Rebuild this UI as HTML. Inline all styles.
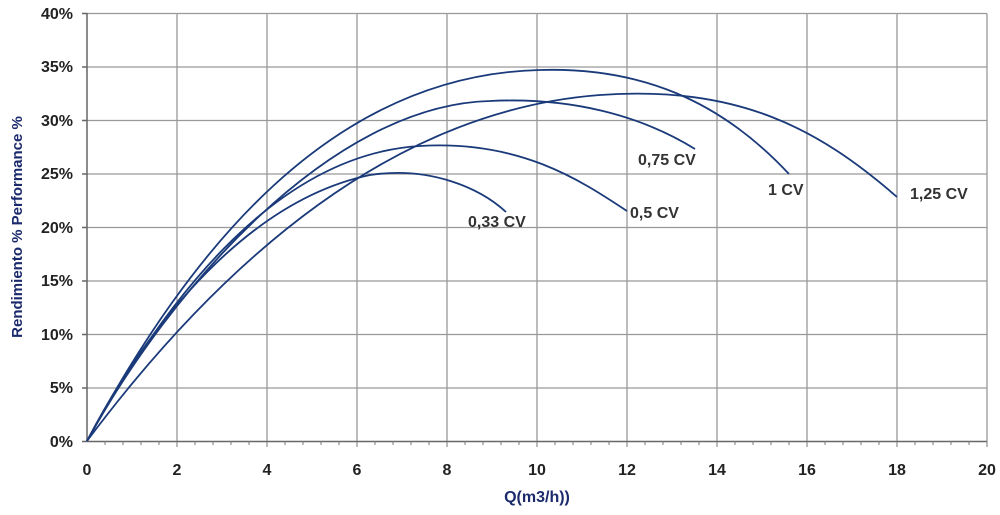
<!DOCTYPE html><html><head><style>body{margin:0;background:#fff}svg{display:block;font-family:"Liberation Sans",sans-serif}</style></head><body>
<svg width="1000" height="515" viewBox="0 0 1000 515">
<g stroke="#999" stroke-width="1.3">
<line x1="87" y1="13.5" x2="987" y2="13.5"/><line x1="87" y1="67" x2="987" y2="67"/><line x1="87" y1="120.5" x2="987" y2="120.5"/><line x1="87" y1="174" x2="987" y2="174"/><line x1="87" y1="227.5" x2="987" y2="227.5"/><line x1="87" y1="281" x2="987" y2="281"/><line x1="87" y1="334.5" x2="987" y2="334.5"/><line x1="87" y1="388" x2="987" y2="388"/>
<line x1="177" y1="13.5" x2="177" y2="441"/><line x1="267" y1="13.5" x2="267" y2="441"/><line x1="357" y1="13.5" x2="357" y2="441"/><line x1="447" y1="13.5" x2="447" y2="441"/><line x1="537" y1="13.5" x2="537" y2="441"/><line x1="627" y1="13.5" x2="627" y2="441"/><line x1="717" y1="13.5" x2="717" y2="441"/><line x1="807" y1="13.5" x2="807" y2="441"/><line x1="897" y1="13.5" x2="897" y2="441"/><line x1="987" y1="13.5" x2="987" y2="441"/>
</g>
<g stroke="#666" stroke-width="1.5"><line x1="87" y1="13" x2="87" y2="442"/><line x1="82" y1="441.5" x2="987" y2="441.5"/>
<path d="M82 13.5h5M82 67h5M82 120.5h5M82 174h5M82 227.5h5M82 281h5M82 334.5h5M82 388h5"/>
</g>
<path stroke="#777" stroke-width="1" d="M105 441v4M123 441v4M141 441v4M159 441v4M195 441v4M213 441v4M231 441v4M249 441v4M285 441v4M303 441v4M321 441v4M339 441v4M375 441v4M393 441v4M411 441v4M429 441v4M465 441v4M483 441v4M501 441v4M519 441v4M555 441v4M573 441v4M591 441v4M609 441v4M645 441v4M663 441v4M681 441v4M699 441v4M735 441v4M753 441v4M771 441v4M789 441v4M825 441v4M843 441v4M861 441v4M879 441v4M915 441v4M933 441v4M951 441v4M969 441v4M177 441v6M267 441v6M357 441v6M447 441v6M537 441v6M627 441v6M717 441v6M807 441v6M897 441v6M987 441v6"/>
<g fill="none" stroke="#1a3a7a" stroke-width="1.8">
<path d="M87,441 C150,320 250,200 370,175 C430,166 480,188 506,212"/>
<path d="M87,441 C160,310 270,155 420,146 C520,140 580,180 627,211"/>
<path d="M87,441 C170,290 330,105 490,101 C570,97 640,115 695,149"/>
<path d="M87,441 C190,250 330,75 540,70 C640,67 720,100 789,174"/>
<path d="M87,441 C230,250 400,110 600,95 C740,85 820,130 897,197"/>
</g>
<g font-size="16" font-weight="bold" fill="#222" text-anchor="end">
<text x="73" y="19">40%</text><text x="73" y="72">35%</text><text x="73" y="126">30%</text><text x="73" y="179">25%</text><text x="73" y="233">20%</text><text x="73" y="286">15%</text><text x="73" y="340">10%</text><text x="73" y="393">5%</text><text x="73" y="447">0%</text>
</g>
<g font-size="16" font-weight="bold" fill="#222" text-anchor="middle">
<text x="87" y="475">0</text><text x="177" y="475">2</text><text x="267" y="475">4</text><text x="357" y="475">6</text><text x="447" y="475">8</text><text x="537" y="475">10</text><text x="627" y="475">12</text><text x="717" y="475">14</text><text x="807" y="475">16</text><text x="897" y="475">18</text><text x="987" y="475">20</text>
</g>
<g font-size="16" font-weight="bold" fill="#333">
<text x="468" y="227">0,33 CV</text><text x="630" y="218">0,5 CV</text><text x="638" y="165">0,75 CV</text><text x="768" y="195">1 CV</text><text x="910" y="199">1,25 CV</text>
</g>
<text x="537" y="502" font-size="16" font-weight="bold" fill="#1a2a6c" text-anchor="middle">Q(m3/h))</text>
<text transform="translate(22,227) rotate(-90)" font-size="15" font-weight="bold" fill="#1a2a6c" text-anchor="middle">Rendimiento %  Performance  %</text>
</svg></body></html>
